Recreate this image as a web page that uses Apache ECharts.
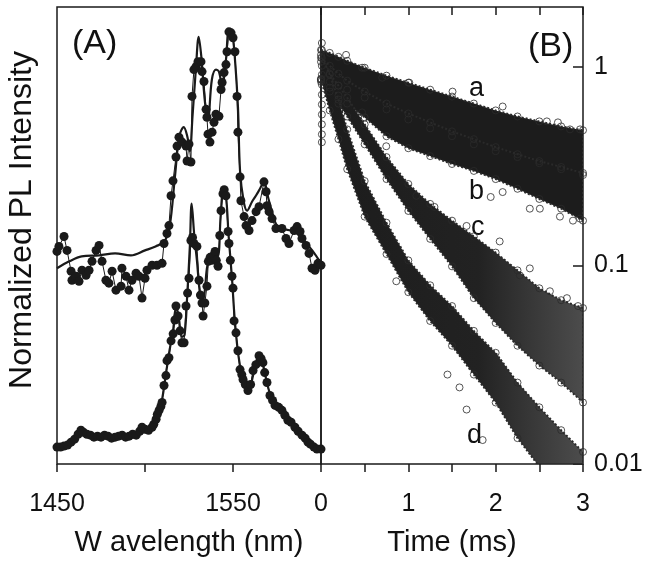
<!DOCTYPE html>
<html>
<head>
<meta charset="utf-8">
<script src="https://cdn.jsdelivr.net/npm/echarts@6/dist/echarts.min.js"></script>
<style>
html,body{margin:0;padding:0;background:#fff;}
#chart{width:648px;height:562px;}
</style>
</head>
<body>
<div id="chart"></div>
<script>
// ---------- Panel A: PL spectra (wavelength nm, normalized intensity with offset) ----------
const wlTickLabels = ['1450', '1550'];
const upperDots = [[1450,2.14],[1451.1,2.19],[1454,2.29],[1455.7,2.15],[1458,1.94],[1458.5,1.85],[1460.8,1.89],[1462.5,1.84],[1464.2,1.95],[1466.5,1.90],[1468.2,1.95],[1469.9,2.04],[1472.2,2.15],[1473.9,2.20],[1475.6,2.04],[1477.8,1.85],[1479.5,1.82],[1481.3,1.94],[1483.5,1.75],[1486.4,1.79],[1486.9,1.97],[1489.2,1.89],[1490.9,1.75],[1492.6,1.85],[1494.9,1.92],[1496.6,1.89],[1498.3,1.67],[1500,1.87],[1501.1,1.95],[1504,2.00],[1506.8,2.00],[1509.7,2.02],[1510.8,2.22],[1512.5,2.32],[1513.6,2.40],[1514.8,2.70],[1515.9,2.85],[1517.6,3.09],[1518.2,3.20],[1519.3,3.29],[1521,3.24],[1523.3,3.20],[1523.9,3.05],[1525,3.22],[1526.1,3.04],[1526.7,3.70],[1527.8,3.97],[1529,4.00],[1530.1,4.05],[1531.8,4.05],[1532.4,3.95],[1533.5,3.85],[1534.7,3.57],[1535.2,3.49],[1535.8,3.32],[1536.9,3.24],[1538.1,3.34],[1539.2,3.44],[1540.3,3.52],[1542,3.50],[1543.2,3.77],[1543.8,3.84],[1544.9,3.94],[1546,4.02],[1546.6,4.15],[1547.7,4.35],[1548.9,4.34],[1550,4.29],[1551.1,4.15],[1552.3,3.70],[1552.8,3.34],[1554,2.89],[1554.5,2.65],[1556.3,2.49],[1557.4,2.40],[1559.1,2.35],[1560.8,2.45],[1563.1,2.54],[1564.8,2.59],[1567.6,2.84],[1568.8,2.74],[1569.3,2.60],[1570.5,2.54],[1572.2,2.47],[1574.4,2.37],[1577.8,2.37],[1580.1,2.27],[1581.8,2.22],[1584.7,2.35],[1586.4,2.39],[1588.1,2.34],[1589.2,2.27],[1591.5,2.20],[1593.2,2.12],[1594.9,1.97],[1596.6,1.95],[1598.3,2.02],[1600,2.00]];
const upperFit = [[1450,1.97],[1457,2.04],[1464,2.09],[1474,2.10],[1483,2.12],[1492,2.10],[1500,2.15],[1506,2.19],[1511,2.24],[1514,2.39],[1517,2.89],[1519.5,3.30],[1522,3.39],[1524,3.30],[1525.5,3.15],[1527,3.50],[1529,4.00],[1530.5,4.30],[1532,4.10],[1533.5,3.75],[1534.7,3.55],[1535.8,3.47],[1538,3.87],[1540.3,3.97],[1542,3.95],[1543.8,3.80],[1546,4.07],[1547.7,4.37],[1549.5,4.33],[1551,4.10],[1552.8,3.60],[1554,2.95],[1556,2.65],[1558,2.55],[1560.8,2.64],[1563,2.70],[1565,2.76],[1567.6,2.84],[1570,2.68],[1572,2.55],[1575,2.40],[1580,2.36],[1585,2.34],[1590,2.25],[1595,2.15],[1600,2.02]];
const lowerDots = [[1450,0.17],[1452,0.17],[1454,0.18],[1456,0.19],[1458,0.22],[1460,0.25],[1462,0.30],[1463.6,0.34],[1465,0.32],[1467,0.30],[1469,0.29],[1471,0.27],[1473,0.28],[1475,0.27],[1477,0.29],[1479,0.28],[1481,0.26],[1483,0.27],[1485,0.28],[1487,0.29],[1489,0.27],[1491,0.28],[1493,0.30],[1495,0.29],[1497,0.33],[1498.3,0.37],[1500,0.35],[1502,0.34],[1504,0.37],[1505,0.40],[1506.3,0.45],[1507,0.50],[1508,0.54],[1509,0.58],[1509.7,0.62],[1510.8,0.79],[1511.9,0.89],[1512.5,1.04],[1513.6,1.07],[1514.8,1.24],[1516,1.31],[1517,1.45],[1517.6,1.59],[1518.8,1.49],[1519.9,1.34],[1521,1.22],[1522.2,1.22],[1523.3,1.59],[1524.2,1.72],[1525,1.87],[1526.1,2.25],[1527,2.28],[1527.8,2.22],[1529.5,2.19],[1530.7,1.85],[1531.5,1.70],[1532.4,1.62],[1533,1.49],[1534,1.62],[1535.2,1.79],[1536,2.04],[1537,2.08],[1538,2.05],[1539,2.10],[1539.8,2.14],[1540.5,2.05],[1541.5,1.99],[1542.5,2.30],[1543.2,2.55],[1544.3,2.72],[1545,2.76],[1546,2.70],[1547.2,2.34],[1547.7,2.22],[1548.5,2.05],[1549.4,1.89],[1550,1.77],[1550.6,1.44],[1551.7,1.32],[1552.8,1.14],[1554,0.95],[1555,0.90],[1555.7,0.85],[1557,0.80],[1558.5,0.74],[1560,0.80],[1561.4,0.94],[1563,1.00],[1564.8,1.09],[1566,1.06],[1567,1.02],[1568,0.92],[1569.3,0.82],[1571,0.69],[1572.5,0.64],[1573.9,0.59],[1576,0.57],[1577.8,0.54],[1579.5,0.49],[1581.2,0.44],[1583,0.42],[1585.2,0.37],[1587,0.33],[1589.2,0.29],[1591,0.26],[1592.6,0.22],[1594,0.20],[1596,0.17],[1597.7,0.15],[1600,0.15]];
const lowerFit = [[1450,0.16],[1456,0.19],[1460,0.24],[1464,0.32],[1468,0.29],[1475,0.28],[1485,0.28],[1495,0.31],[1500,0.35],[1505,0.40],[1508,0.52],[1510,0.68],[1512,0.92],[1514,1.15],[1516,1.35],[1517.6,1.58],[1519,1.50],[1521,1.28],[1522.5,1.30],[1524,1.70],[1525.5,2.20],[1526.5,2.62],[1528,2.30],[1529.5,2.05],[1531,1.75],[1532.5,1.60],[1534,1.75],[1535.5,2.00],[1538,2.08],[1540,2.12],[1541.5,2.10],[1543,2.50],[1544.5,2.75],[1546,2.70],[1547.5,2.30],[1549.5,1.85],[1551,1.45],[1553,1.10],[1555,0.90],[1557.5,0.76],[1559,0.74],[1561.5,0.90],[1564.8,1.10],[1567,1.00],[1569.5,0.80],[1572,0.66],[1575,0.57],[1580,0.48],[1585,0.38],[1590,0.28],[1595,0.20],[1600,0.14]];

// ---------- Panel B: PL decays (time ms, log intensity), band envelopes read at times T ----------
const timeTickLabels = ['0', '1', '2', '3'];
const logTickLabels = ['0.01', '0.1', '1'];
const T   = [0, 0.1, 0.2, 0.3, 0.5, 0.75, 1.0, 1.25, 1.5, 1.75, 2.0, 2.25, 2.5, 2.75, 3.0];
const aHi = [1.216, 1.175, 1.122, 1.072, 0.989, 0.902, 0.832, 0.767, 0.708, 0.653, 0.603, 0.562, 0.531, 0.501, 0.479];
const aLo = [0.861, 0.841, 0.804, 0.767, 0.700, 0.610, 0.543, 0.490, 0.447, 0.407, 0.376, 0.351, 0.327, 0.305, 0.285];
const bHi = [1.109, 1.012, 0.923, 0.851, 0.750, 0.653, 0.582, 0.525, 0.473, 0.432, 0.394, 0.363, 0.335, 0.313, 0.292];
const bLo = [0.841, 0.785, 0.716, 0.653, 0.556, 0.447, 0.389, 0.355, 0.324, 0.299, 0.272, 0.243, 0.216, 0.193, 0.168];
const cHi = [1.059, 0.923, 0.804, 0.700, 0.513, 0.351, 0.257, 0.204, 0.168, 0.140, 0.116, 0.0944, 0.0767, 0.0668, 0.0610];
const cLo = [0.861, 0.750, 0.653, 0.562, 0.407, 0.272, 0.188, 0.136, 0.0989, 0.0684, 0.0513, 0.0394, 0.0313, 0.0257, 0.0204];
const dHi = [1.148, 0.912, 0.684, 0.484, 0.266, 0.164, 0.106, 0.0794, 0.0624, 0.0468, 0.0363, 0.0257, 0.0193, 0.0148, 0.0115];
const dLo = [0.871, 0.603, 0.432, 0.305, 0.176, 0.114, 0.0733, 0.0525, 0.0394, 0.0282, 0.0204, 0.0135, 0.0097, 0.0071, 0.0051];
// individual stray points
const risePts = [[0.01,1.318],[0.01,1.216],[0.01,1.109],[0.01,1.012],[0.01,0.912],[0.01,0.813],[0.01,0.724],[0.01,0.646],[0.01,0.575],[0.01,0.513],[0.01,0.457],[0.01,0.417]];
const strayPts = [[0.287,1.148],[0.471,0.989],[0.701,0.881],[1.011,0.832],[1.506,0.750],[2.080,0.631],[2.586,0.531],[2.713,0.525],[2.851,0.484],[2.966,0.484],
  [0.747,0.398],[1.943,0.221],[2.080,0.234],[2.391,0.193],[2.506,0.193],[2.736,0.176],[2.885,0.168],[2.966,0.172],
  [0.471,0.589],[1.092,0.224],[1.299,0.197],[1.667,0.158],[2.046,0.132],[2.276,0.0891],[2.391,0.0966],[2.621,0.0741],[2.816,0.0684],[2.943,0.0624],
  [0.862,0.0832],[1.448,0.0282],[1.586,0.0243],[1.667,0.0188],[1.851,0.0132]];

const FONT = 'Liberation Sans, Arial, Helvetica, sans-serif';
const INK = '#1a1a1a';
const chart = echarts.init(document.getElementById('chart'), null, {renderer: 'canvas'});

function bandSeries(hi, lo, fill) {
  return {
    type: 'custom', xAxisIndex: 1, yAxisIndex: 1, clip: true, silent: true,
    data: T.map((t, i) => [t, hi[i], lo[i]]),
    renderItem: function (params, api) {
      if (params.dataIndex !== 0) return null;
      const pts = [];
      for (let i = 0; i < T.length; i++) pts.push(api.coord([T[i], hi[i]]));
      for (let i = T.length - 1; i >= 0; i--) pts.push(api.coord([T[i], lo[i]]));
      return {type: 'polygon', shape: {points: pts},
              style: {fill: fill, stroke: '#2a2a2a', lineWidth: 2, lineDash: [2, 2]}};
    }
  };
}
function circleSeries(data) {
  return {
    type: 'scatter', xAxisIndex: 1, yAxisIndex: 1, symbol: 'circle', symbolSize: 7, silent: true,
    itemStyle: {color: 'rgba(0,0,0,0)', borderColor: '#2b2b2b', borderWidth: 1},
    data: data
  };
}
function pairs(hi) { return T.map((t, i) => [t, hi[i]]); }
function fade() {
  return new echarts.graphic.LinearGradient(0, 0, 1, 0, [
    {offset: 0, color: '#1c1c1c'}, {offset: 0.6, color: '#222222'}, {offset: 1, color: 'rgba(45,45,45,0.85)'}]);
}

const tickStyle = {color: INK, width: 1.5};
const option = {
  backgroundColor: '#fff',
  animation: false,
  grid: [
    {left: 57, top: 7, width: 264, height: 460, show: true, borderColor: INK, borderWidth: 1.5, backgroundColor: 'transparent'},
    {left: 321, top: 7, width: 262, height: 460, show: true, borderColor: INK, borderWidth: 1.5, backgroundColor: 'transparent'}
  ],
  xAxis: [
    {gridIndex: 0, type: 'value', min: 1450, max: 1600, interval: 50, position: 'bottom',
     axisLine: {show: false, onZero: false}, splitLine: {show: false},
     axisTick: {show: true, inside: false, length: 8, lineStyle: tickStyle},
     axisLabel: {show: true, margin: 28, fontSize: 25, color: '#111', fontFamily: FONT,
       formatter: v => (wlTickLabels.indexOf(String(Math.round(v))) >= 0 ? String(Math.round(v)) : '')},
     name: 'W avelength (nm)', nameLocation: 'middle', nameGap: 64,
     nameTextStyle: {fontSize: 29, color: '#111', fontFamily: FONT}},
    {gridIndex: 1, type: 'value', min: 0, max: 3, interval: 0.5, position: 'bottom',
     axisLine: {show: false, onZero: false}, splitLine: {show: false},
     axisTick: {show: true, inside: false, length: 8, lineStyle: tickStyle},
     axisLabel: {show: true, margin: 28, fontSize: 25, color: '#111', fontFamily: FONT,
       formatter: v => (timeTickLabels.indexOf(String(v)) >= 0 ? String(v) : '')},
     name: 'Time (ms)', nameLocation: 'middle', nameGap: 64,
     nameTextStyle: {fontSize: 29, color: '#111', fontFamily: FONT}},
    {gridIndex: 1, type: 'value', min: 0, max: 3, interval: 0.5, position: 'top',
     axisLine: {show: false, onZero: false}, splitLine: {show: false}, axisLabel: {show: false},
     axisTick: {show: true, inside: true, length: 8, lineStyle: tickStyle}}
  ],
  yAxis: [
    {gridIndex: 0, type: 'value', min: 0, max: 4.6, show: true,
     axisLine: {show: false, onZero: false}, axisTick: {show: false}, axisLabel: {show: false}, splitLine: {show: false}},
    {gridIndex: 1, type: 'log', logBase: 10, min: 0.01, max: 2, position: 'right',
     axisLine: {show: false, onZero: false}, splitLine: {show: false}, minorTick: {show: false},
     axisTick: {show: true, inside: true, length: 10, lineStyle: tickStyle},
     axisLabel: {show: true, margin: 11, fontSize: 25, color: '#111', fontFamily: FONT, showMaxLabel: false,
       formatter: v => { const s = String(+Number(v).toPrecision(3)); return logTickLabels.indexOf(s) >= 0 ? s : ''; }}}
  ],
  series: [
    {type: 'line', xAxisIndex: 0, yAxisIndex: 0, data: upperDots, symbol: 'circle', symbolSize: 9, showSymbol: true,
     lineStyle: {color: INK, width: 1}, itemStyle: {color: INK}, silent: true},
    {type: 'line', xAxisIndex: 0, yAxisIndex: 0, data: upperFit, smooth: 0.35, symbol: 'none',
     lineStyle: {color: INK, width: 2.2}, silent: true},
    {type: 'line', xAxisIndex: 0, yAxisIndex: 0, data: lowerDots, symbol: 'circle', symbolSize: 9, showSymbol: true,
     lineStyle: {color: INK, width: 1}, itemStyle: {color: INK}, silent: true},
    {type: 'line', xAxisIndex: 0, yAxisIndex: 0, data: lowerFit, smooth: 0.35, symbol: 'none',
     lineStyle: {color: INK, width: 2.2}, silent: true},
    bandSeries(aHi, aLo, '#1c1c1c'),
    bandSeries(bHi, bLo, '#1c1c1c'),
    bandSeries(cHi, cLo, fade()),
    bandSeries(dHi, dLo, fade()),
    circleSeries(pairs(aHi).concat(pairs(aLo))),
    circleSeries(pairs(bHi).concat(pairs(bLo))),
    circleSeries(pairs(cHi).concat(pairs(cLo))),
    circleSeries(pairs(dHi).concat(pairs(dLo))),
    circleSeries(risePts.concat(strayPts))
  ],
  graphic: [
    {type: 'text', left: 72, top: 27, style: {text: '(A)', font: '34px ' + FONT, fill: '#111'}},
    {type: 'text', left: 528, top: 30, style: {text: '(B)', font: '34px ' + FONT, fill: '#111'}},
    {type: 'text', left: 469, top: 75, style: {text: 'a', font: '27px ' + FONT, fill: '#111'}},
    {type: 'text', left: 469, top: 178, style: {text: 'b', font: '27px ' + FONT, fill: '#111'}},
    {type: 'text', left: 471, top: 214, style: {text: 'c', font: '27px ' + FONT, fill: '#111'}},
    {type: 'text', left: 467, top: 422, style: {text: 'd', font: '27px ' + FONT, fill: '#111'}},
    {type: 'text', x: 22, y: 220, rotation: Math.PI / 2,
     style: {text: 'Normalized PL Intensity', font: '32px ' + FONT, fill: '#111', align: 'center', verticalAlign: 'middle'}}
  ]
};
chart.setOption(option);
</script>
</body>
</html>
